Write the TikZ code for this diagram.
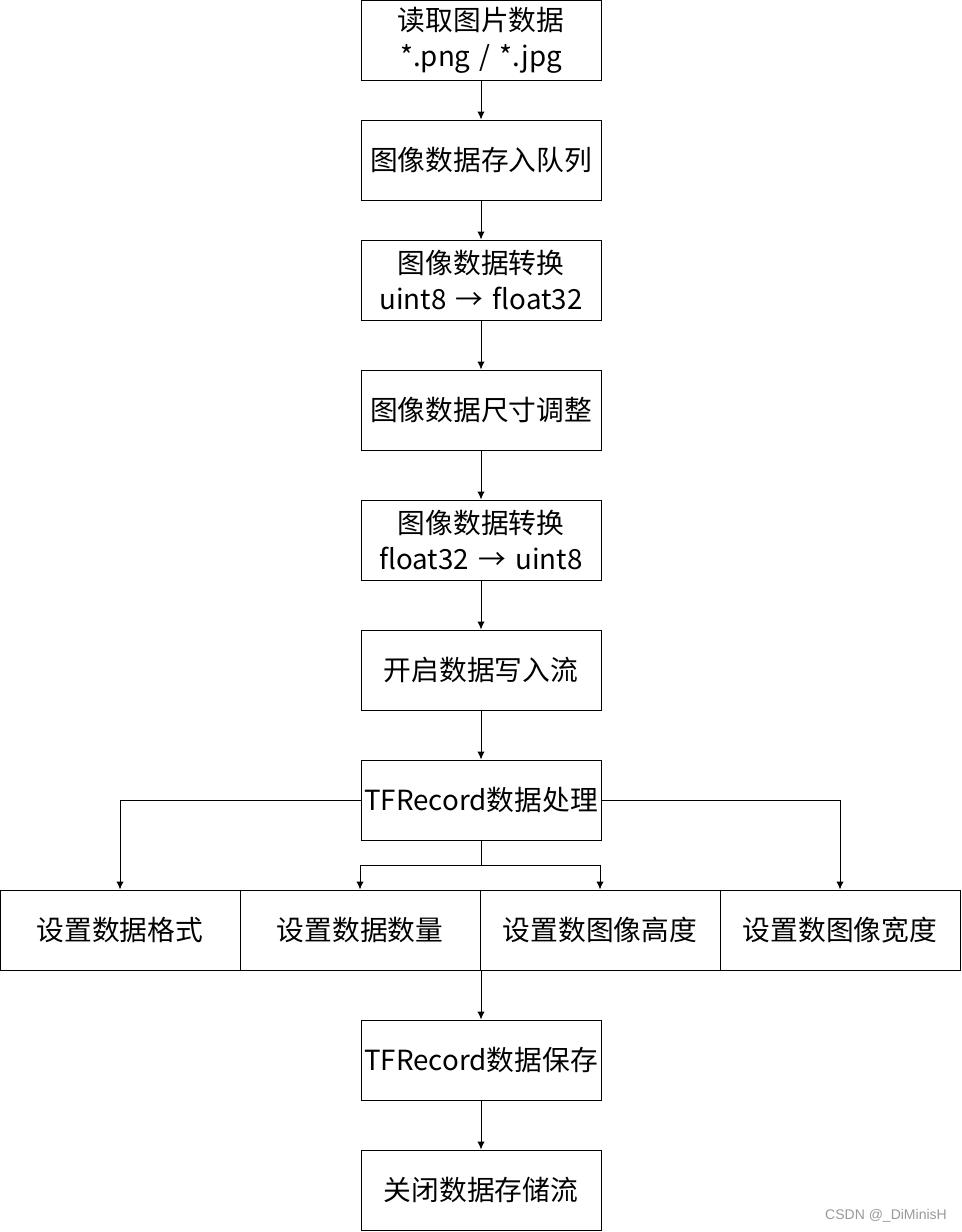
\documentclass[tikz,border=0pt]{standalone}
\usepackage{fontspec}
\setmainfont{Noto Sans CJK SC}
\newfontfamily\wmfont{Liberation Sans}
\usetikzlibrary{arrows.meta, calc}
\tikzstyle{line} = [draw, -{Latex[length=6pt, width=5.5pt]}, line width=0.75pt]
\tikzstyle{box} = [rectangle, draw, line width=0.75pt, minimum width=180pt, minimum height=60pt, text width=178pt, inner sep=0pt, text centered, node distance=97.5pt, font=\fontsize{20.8}{27}\selectfont]

\begin{document}
\begin{tikzpicture}
	\useasboundingbox (0,0) rectangle (721.5pt,-924pt);
	
	\node [box] (read) at (360.75pt,-30pt) {读取图片数据\\{}*.png / *.jpg};
	\node [box, below of=read, node distance=90pt] (queue) {图像数据存入队列};
	\node [box, below of=queue, node distance=90pt] (cast1) {图像数据转换\\uint8 → float32};
	\node [box, below of=cast1] (resize) {图像数据尺寸调整};
	\node [box, below of=resize] (cast2) {图像数据转换\\float32 → uint8};
	\node [box, below of=cast2] (stream) {开启数据写入流};
	\node [box, below of=stream] (proc) {TFRecord数据处理};
	
	\node [box, below of=proc, xshift=-90.75pt] (num) {设置数据数量};
	\node [box, left of=num, node distance=180pt] (fmt) {设置数据格式};
	\node [box, right of=num, node distance=180pt] (height) {设置数图像高度};
	\node [box, right of=height, node distance=180pt] (width) {设置数图像宽度};
	
	\node [box, below of=proc, node distance=195pt] (save) {TFRecord数据保存};
	\node [box, below of=save] (close) {关闭数据存储流};
	
	\coordinate [below of=proc, node distance=48.75pt] (fork);
	
	\path [line] (read.south) -- (queue.north);
	\path [line] (queue.south) -- (cast1.north);
	\path [line] (cast1.south) -- (resize.north);
	\path [line] (resize.south) -- (cast2.north);
	\path [line] (cast2.south) -- (stream.north);
	\path [line] (stream.south) -- (proc.north);
	
	\path [line] (proc.west) -| (fmt.north);
	\path [line] (proc.east) -| (width.north);
	\draw [line width=0.75pt] (proc.south) -- (fork);
	\path [line] (fork) -| (num.north);
	\path [line] (fork) -| (height.north);
	
	\path [line] (save.north |- num.south) -- (save.north);
	\path [line] (save.south) -- (close.north);
	
	\node [font=\wmfont\fontsize{10.5}{10.5}\selectfont, text=gray!80] (mark) at (664.5pt,-911.5pt) {CSDN @\_DiMinisH};
	
\end{tikzpicture}
\end{document}
